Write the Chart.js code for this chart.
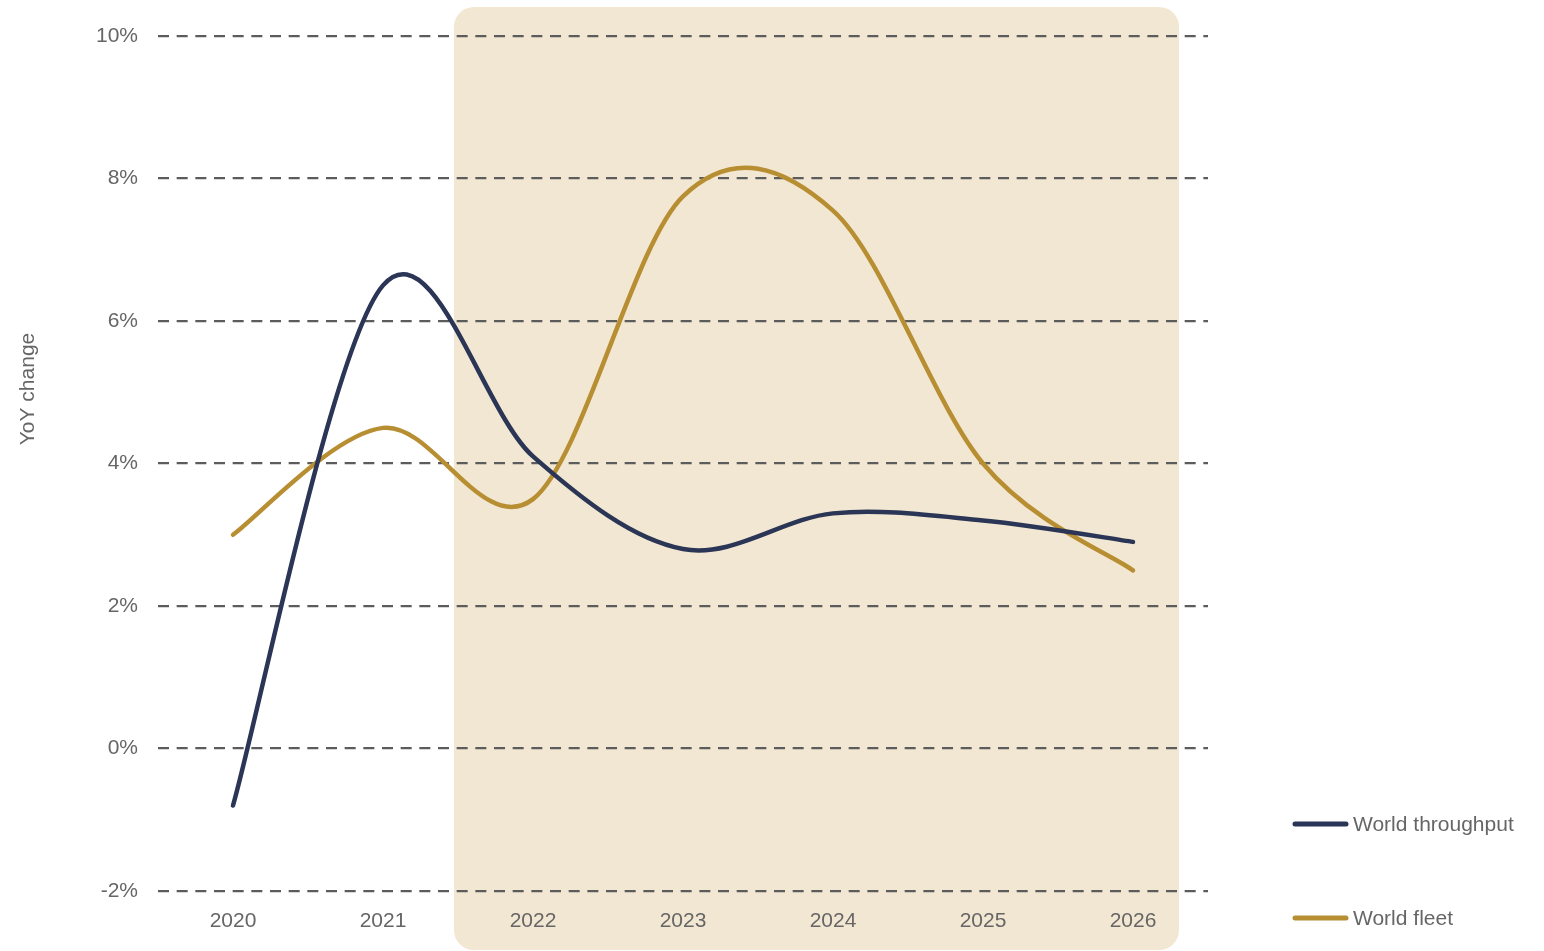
<!DOCTYPE html>
<html>
<head>
<meta charset="utf-8">
<title>World throughput vs world fleet</title>
<script src="https://cdn.jsdelivr.net/npm/chart.js@4/dist/chart.umd.min.js"></script>
<style>
  html, body { margin: 0; padding: 0; background: #ffffff; }
  #wrap { width: 1544px; height: 951px; position: relative; }
</style>
</head>
<body>
<div id="wrap"><canvas id="chart" width="1544" height="951"></canvas></div>
<script>
// Years on the category axis
const years = ['2020', '2021', '2022', '2023', '2024', '2025', '2026'];
// Year-on-year change, %
const worldThroughput = [-0.8, 6.5, 4.1, 2.8, 3.3, 3.2, 2.9];
const worldFleet = [3.0, 4.5, 3.5, 7.75, 7.55, 4.0, 2.5];
// Value axis ticks
const yTicks = [-2, 0, 2, 4, 6, 8, 10];
const seriesNames = ['World throughput', 'World fleet'];

const NAVY = '#2b3555';
const GOLD = '#b88e33';
const TEXT = '#666666';
const FONT = '"Liberation Sans", Arial, Helvetica, sans-serif';
const FONT_SIZE = 21;

// Forecast band, in category units along the x axis
const bandFrom = 1.473, bandTo = 6.307;

const bandPlugin = {
  id: 'forecastBand',
  beforeDraw(chart) {
    const x = chart.scales.x;
    const x0 = x.getPixelForValue(0);
    const step = x.getPixelForValue(1) - x0;
    const left = x0 + bandFrom * step;
    const right = x0 + bandTo * step;
    const top = 7, bottom = chart.height - 1, r = 20;
    const ctx = chart.ctx;
    ctx.save();
    ctx.fillStyle = '#f2e7d2';
    ctx.beginPath();
    ctx.roundRect(left, top, right - left, bottom - top, r);
    ctx.fill();
    ctx.restore();
  }
};

// Uniform Catmull-Rom smoothing: replaces the distance-weighted control points
// that Chart.js computes for each line point.
const catmullRomPlugin = {
  id: 'catmullRom',
  beforeDatasetDraw(chart, args) {
    const meta = args.meta;
    const line = meta.dataset;
    line.updateControlPoints(chart.chartArea, meta.iScale.axis);
    const pts = meta.data;
    const n = pts.length;
    for (let i = 0; i < n; i++) {
      const p = pts[i];
      const prev = pts[Math.max(0, i - 1)];
      const next = pts[Math.min(n - 1, i + 1)];
      const tx = (next.x - prev.x) / 6;
      const ty = (next.y - prev.y) / 6;
      p.cp1x = p.x - tx; p.cp1y = p.y - ty;
      p.cp2x = p.x + tx; p.cp2y = p.y + ty;
    }
    line._path = undefined;
  }
};

const decorPlugin = {
  id: 'decor',
  afterDraw(chart) {
    const ctx = chart.ctx;
    ctx.save();
    // rotated value-axis title
    ctx.fillStyle = TEXT;
    ctx.font = FONT_SIZE + 'px ' + FONT;
    ctx.textAlign = 'center';
    ctx.textBaseline = 'middle';
    ctx.translate(28, 389);
    ctx.rotate(-Math.PI / 2);
    ctx.fillText('YoY change', 0, 0);
    ctx.restore();

    // legend at lower right
    const items = [[seriesNames[0], NAVY, 824], [seriesNames[1], GOLD, 918]];
    ctx.save();
    items.forEach(([label, color, y]) => {
      ctx.strokeStyle = color;
      ctx.lineWidth = 5;
      ctx.lineCap = 'round';
      ctx.beginPath();
      ctx.moveTo(1295, y);
      ctx.lineTo(1346, y);
      ctx.stroke();
      ctx.fillStyle = TEXT;
      ctx.font = FONT_SIZE + 'px ' + FONT;
      ctx.textAlign = 'left';
      ctx.textBaseline = 'middle';
      ctx.fillText(label, 1353, y + 1);
    });
    ctx.restore();
  }
};

const lineStyle = {
  borderWidth: 4.5,
  tension: 0.4,
  pointRadius: 0,
  borderCapStyle: 'round',
  borderJoinStyle: 'round',
  fill: false
};

new Chart(document.getElementById('chart'), {
  type: 'line',
  data: {
    labels: years,
    datasets: [
      Object.assign({ label: seriesNames[0], data: worldThroughput, borderColor: NAVY }, lineStyle),
      Object.assign({ label: seriesNames[1], data: worldFleet, borderColor: GOLD }, lineStyle)
    ]
  },
  options: {
    responsive: false,
    animation: false,
    layout: { padding: { top: 36, right: 336, left: 0, bottom: 0 } },
    plugins: {
      legend: { display: false },
      tooltip: { enabled: false }
    },
    scales: {
      x: {
        offset: true,
        grid: { display: false, drawTicks: false },
        border: { display: false },
        ticks: { color: TEXT, font: { family: FONT, size: FONT_SIZE }, padding: 18, maxRotation: 0 },
        afterFit(scale) { scale.height = 60; }
      },
      y: {
        min: yTicks[0],
        max: yTicks[yTicks.length - 1],
        afterBuildTicks(scale) { scale.ticks = yTicks.map(v => ({ value: v })); },
        grid: { color: '#5c5c5c', lineWidth: 2.2, drawTicks: false },
        border: { display: false, dash: [11, 7.667] },
        ticks: {
          color: TEXT,
          font: { family: FONT, size: FONT_SIZE },
          padding: 20,
          callback: v => v + '%'
        },
        afterFit(scale) { scale.width = 158; }
      }
    }
  },
  plugins: [bandPlugin, catmullRomPlugin, decorPlugin]
});
</script>
</body>
</html>
